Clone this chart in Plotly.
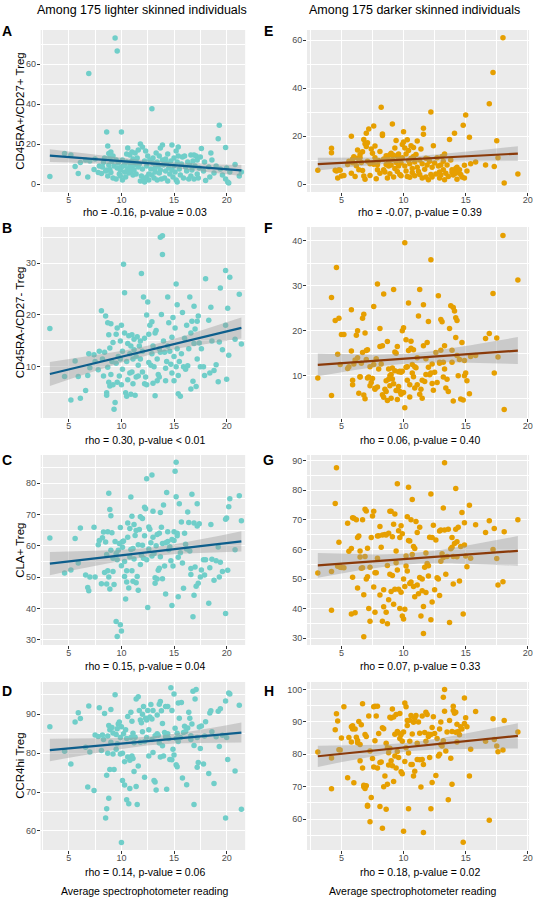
import numpy as np
import plotly.graph_objects as go

# ---------------- data ----------------
light_x = [3.2, 4.6, 5.2, 5.6, 5.9, 6.1, 6.6, 6.8, 6.9, 7.0, 7.4, 7.5, 7.8, 7.9, 8.1, 8.2, 8.3, 8.4, 8.5, 8.6, 8.6, 8.7, 8.7, 8.8, 8.8,
           8.9, 8.9, 9.0, 9.0, 9.1, 9.2, 9.2, 9.3, 9.4, 9.5, 9.5, 9.6, 9.6, 9.7, 9.8, 9.9, 9.9, 10.0, 10.0, 10.1, 10.1, 10.2, 10.3, 10.3, 10.4,
           10.5, 10.5, 10.6, 10.6, 10.7, 10.8, 10.8, 10.9, 10.9, 11.0, 11.0, 11.1, 11.1, 11.2, 11.2, 11.3, 11.4, 11.4, 11.5, 11.6, 11.6, 11.7, 11.8, 11.8, 11.9,
           12.0, 12.0, 12.1, 12.2, 12.2, 12.3, 12.4, 12.4, 12.5, 12.6, 12.6, 12.7, 12.8, 12.9, 12.9, 13.0, 13.0, 13.1, 13.2, 13.2, 13.3, 13.4, 13.4, 13.5, 13.6,
           13.6, 13.7, 13.7, 13.8, 13.9, 13.9, 14.0, 14.1, 14.2, 14.2, 14.3, 14.4, 14.4, 14.5, 14.6, 14.7, 14.8, 14.8, 14.9, 15.0, 15.0, 15.1, 15.2, 15.2, 15.3,
           15.3, 15.4, 15.4, 15.5, 15.6, 15.7, 15.8, 15.9, 16.0, 16.1, 16.2, 16.3, 16.4, 16.5, 16.6, 16.6, 16.7, 16.8, 16.9, 16.9, 17.0, 17.1, 17.2, 17.2, 17.3,
           17.4, 17.5, 17.6, 17.8, 17.9, 18.0, 18.3, 18.4, 18.5, 18.6, 18.8, 19.0, 19.2, 19.3, 19.4, 19.6, 19.9, 19.9, 20.0, 20.1, 20.2, 20.3, 20.8, 21.2, 21.4]

a_y = [3.7, 15.2, 14.5, 8.7, 5.2, 10.8, 12.0, 3.5, 55.3, 11.5, 7.3, 12.5, 5.8, 9.0, 5.2, 8.5, 10.7, 13.0, 6.5, 26.0, 7.0, 19.0, 4.0, 15.3, 9.5,
       13.3, 7.3, 16.0, 5.7, 11.2, 3.0, 14.0, 9.0, 73.0, 12.0, 2.5, 66.5, 8.0, 10.5, 5.0, 7.0, 4.0, 26.0, 8.5, 12.0, 2.0, 9.0, 9.5, 6.0, 3.5,
       11.0, 15.0, 7.5, 18.0, 5.5, 9.0, 14.5, 6.5, 11.0, 8.0, 16.0, 4.5, 12.5, 9.5, 7.0, 15.5, 11.0, 5.0, 13.0, 8.5, 17.0, 10.0, 1.5, 20.0, 4.0,
       7.5, 18.5, 2.5, 11.5, 1.0, 16.5, 3.5, 9.0, 14.0, 5.0, 2.0, 12.0, 7.5, 37.6, 4.5, 10.5, 13.0, 3.0, 8.0, 6.0, 15.5, 11.0, 2.0, 9.0, 14.0,
       5.5, 18.0, 7.0, 2.5, 12.0, 19.5, 9.5, 3.0, 12.5, 6.5, 10.5, 15.0, 1.5, 8.0, 5.0, 11.5, 7.0, 19.5, 3.5, 13.0, 9.0, 6.0, 16.5, 2.0, 11.0,
       1.0, 14.0, 18.5, 7.5, 4.5, 10.0, 13.5, 3.0, 14.0, 8.5, 6.5, 11.0, 2.5, 9.5, 14.5, 4.0, 7.0, 11.5, 14.5, 2.5, 9.0, 14.0, 5.0, 12.0, 3.0,
       8.0, 13.5, 17.8, 6.5, 11.0, 1.8, 8.5, 3.5, 15.5, 12.0, 5.5, 9.0, 22.6, 29.4, 7.5, 4.5, 18.2, 2.5, 8.0, 1.0, 0.5, 6.0, 9.8, 4.0, 6.0]

b_y = [17.4, 8.1, 3.6, 11.1, 8.1, 3.9, 5.4, 8.3, 12.5, 9.8, 12.3, 11.0, 9.4, 13.0, 20.8, 11.5, 8.2, 12.8, 19.8, 5.0, 4.5, 9.9, 18.5, 7.0, 16.2,
       6.3, 13.6, 18.3, 8.5, 11.0, 6.5, 14.7, 1.8, 3.1, 16.3, 10.7, 17.5, 7.0, 12.0, 8.2, 15.0, 11.5, 18.0, 6.5, 13.0, 9.5, 29.8, 24.3, 16.5, 5.0,
       4.3, 11.0, 14.5, 7.5, 16.0, 8.8, 12.5, 4.7, 14.0, 16.2, 9.0, 11.5, 6.7, 13.3, 15.3, 4.5, 8.0, 12.0, 15.8, 10.3, 8.2, 14.0, 15.0, 11.5, 28.0,
       9.0, 13.0, 23.5, 6.7, 15.5, 8.0, 20.0, 6.5, 22.5, 10.8, 16.3, 18.0, 10.3, 18.7, 12.5, 6.8, 14.0, 10.0, 4.4, 16.5, 17.0, 11.5, 7.3, 8.5, 13.5,
       8.0, 35.0, 12.8, 20.1, 35.3, 31.7, 15.0, 12.8, 7.3, 9.7, 11.0, 23.5, 14.0, 18.5, 13.0, 10.5, 15.7, 8.8, 19.5, 12.0, 7.3, 17.5, 26.0, 10.0, 22.0,
       13.5, 4.8, 8.3, 11.0, 4.3, 12.5, 20.5, 10.0, 15.5, 9.5, 18.0, 10.2, 13.5, 23.5, 5.7, 16.5, 18.8, 7.2, 21.7, 14.5, 17.3, 6.2, 18.8, 11.5, 19.8,
       14.6, 10.0, 13.5, 10.0, 8.3, 27.0, 19.0, 8.8, 21.5, 15.0, 9.3, 10.4, 7.1, 14.8, 25.2, 13.3, 28.6, 18.0, 7.6, 21.3, 12.2, 27.3, 15.3, 24.0, 14.4]

c_y = [62.5, 51.3, 52.3, 62.3, 54.5, 65.7, 50.7, 46.7, 45.6, 50.0, 65.9, 50.0, 60.3, 61.7, 47.9, 62.6, 64.4, 51.5, 61.2, 47.8, 57.2, 52.0, 64.5, 50.0, 76.8,
       71.6, 46.2, 69.6, 58.6, 64.2, 51.8, 56.0, 47.6, 61.4, 35.8, 57.5, 55.5, 31.0, 58.6, 60.7, 34.8, 65.8, 32.8, 53.6, 61.3, 59.5, 61.5, 55.0, 50.2, 43.0,
       52.0, 48.4, 67.3, 62.7, 46.5, 65.5, 56.4, 75.6, 58.8, 52.0, 69.4, 48.7, 59.1, 66.8, 55.8, 63.3, 48.2, 64.9, 50.2, 45.8, 60.3, 65.2, 69.3, 54.0, 57.0,
       60.2, 68.7, 56.0, 72.3, 63.2, 71.8, 81.4, 55.5, 40.3, 59.0, 66.0, 65.3, 61.0, 82.6, 56.7, 71.0, 62.7, 57.5, 49.8, 48.0, 60.0, 63.6, 49.4, 52.2, 64.0,
       52.8, 70.6, 56.5, 65.9, 60.7, 49.5, 73.0, 53.5, 44.6, 61.0, 77.0, 61.4, 64.5, 58.7, 59.7, 55.2, 40.9, 62.0, 53.5, 61.7, 64.5, 83.8, 86.7, 75.7, 63.2,
       64.0, 56.3, 43.7, 73.4, 57.8, 67.6, 54.5, 46.4, 64.0, 60.5, 59.0, 70.8, 67.4, 58.3, 52.7, 50.8, 76.5, 37.3, 67.3, 44.2, 53.2, 47.1, 73.4, 66.3, 48.0,
       67.0, 50.0, 52.3, 55.5, 50.7, 55.5, 41.6, 53.0, 66.8, 55.7, 49.0, 55.2, 59.6, 50.0, 54.7, 51.8, 68.5, 38.4, 68.9, 52.2, 72.5, 75.0, 58.7, 76.0, 68.0]

d_y = [86.8, 80.5, 77.2, 88.0, 90.4, 88.9, 81.5, 71.3, 92.1, 80.3, 70.4, 84.7, 84.3, 91.7, 80.7, 84.7, 83.5, 90.2, 63.3, 74.3, 65.7, 80.0, 84.4, 68.4, 87.1,
       75.8, 86.0, 91.2, 82.8, 86.6, 79.8, 85.2, 75.8, 95.0, 81.0, 84.8, 86.3, 82.4, 87.5, 88.0, 79.8, 84.0, 57.0, 86.8, 73.0, 80.0, 85.0, 77.8, 71.8, 86.0,
       68.0, 83.8, 79.0, 89.4, 67.0, 78.2, 70.9, 90.5, 84.0, 79.3, 88.2, 85.1, 78.6, 75.3, 82.7, 84.1, 71.4, 93.9, 66.8, 76.7, 94.5, 91.0, 88.5, 82.8, 87.8,
       90.0, 85.5, 92.0, 83.0, 73.8, 89.0, 88.5, 84.0, 91.0, 79.3, 86.0, 89.3, 92.5, 88.8, 83.5, 91.0, 80.2, 73.0, 84.5, 72.6, 70.5, 85.0, 89.8, 84.6, 82.6,
       92.6, 79.0, 93.3, 90.9, 81.9, 87.6, 79.3, 85.3, 92.0, 84.2, 70.7, 92.0, 85.0, 83.8, 78.4, 96.8, 91.0, 78.3, 81.0, 95.2, 79.5, 86.4, 83.8, 77.0, 85.1,
       76.5, 92.9, 83.0, 89.0, 84.0, 93.0, 73.6, 85.3, 86.9, 85.6, 71.9, 86.5, 90.5, 89.0, 83.5, 84.5, 87.5, 95.9, 66.8, 82.0, 93.9, 96.4, 76.4, 84.0, 77.6,
       86.7, 81.2, 87.0, 77.2, 84.4, 88.1, 74.8, 90.3, 90.9, 85.5, 72.2, 84.2, 90.8, 81.7, 91.4, 84.6, 93.4, 63.3, 84.0, 78.4, 95.5, 95.2, 75.4, 92.3, 65.6]

dark_x = [3.1, 4.2, 4.2, 4.5, 4.6, 4.7, 4.8, 4.9, 5.0, 5.2, 5.5, 5.6, 5.8, 5.8, 5.9, 5.9, 6.0, 6.1, 6.2, 6.3, 6.3, 6.4, 6.5, 6.5, 6.6,
          6.7, 6.7, 6.8, 6.8, 6.9, 6.9, 7.0, 7.0, 7.1, 7.1, 7.2, 7.3, 7.3, 7.4, 7.5, 7.6, 7.6, 7.7, 7.7, 7.8, 7.9, 7.9, 8.0, 8.1, 8.1,
          8.2, 8.3, 8.3, 8.4, 8.4, 8.5, 8.6, 8.6, 8.7, 8.7, 8.8, 8.8, 8.9, 8.9, 9.0, 9.0, 9.1, 9.1, 9.2, 9.2, 9.3, 9.3, 9.4, 9.4, 9.5,
          9.5, 9.6, 9.6, 9.7, 9.7, 9.8, 9.8, 9.9, 9.9, 10.0, 10.0, 10.1, 10.1, 10.2, 10.2, 10.3, 10.3, 10.4, 10.4, 10.5, 10.5, 10.6, 10.6, 10.7, 10.7,
          10.8, 10.8, 10.9, 10.9, 11.0, 11.1, 11.1, 11.2, 11.3, 11.3, 11.4, 11.5, 11.5, 11.6, 11.6, 11.7, 11.8, 11.8, 11.9, 12.0, 12.0, 12.1, 12.2, 12.2, 12.3,
          12.3, 12.4, 12.5, 12.6, 12.7, 12.8, 12.9, 12.9, 13.0, 13.0, 13.1, 13.2, 13.2, 13.3, 13.3, 13.4, 13.5, 13.6, 13.7, 13.8, 13.9, 13.9, 14.0, 14.0, 14.1,
          14.2, 14.2, 14.3, 14.3, 14.4, 14.5, 14.6, 14.7, 14.8, 14.9, 14.9, 15.0, 15.1, 15.3, 15.4, 15.8, 16.6, 16.9, 17.2, 17.3, 17.5, 17.6, 18.0, 18.1, 19.2]

e_y = [5.8, 14.9, 13.1, 5.8, 5.5, 2.5, 6.0, 5.8, 3.4, 3.6, 8.2, 9.5, 19.9, 4.5, 10.5, 8.9, 11.4, 3.2, 7.6, 14.2, 10.8, 6.0, 11.0, 12.3, 9.0,
       5.7, 13.5, 18.6, 3.4, 16.8, 2.0, 21.2, 15.7, 9.5, 17.2, 22.9, 8.5, 3.6, 14.6, 12.8, 24.2, 8.3, 15.9, 11.0, 2.2, 8.1, 6.0, 9.8, 13.6, 4.5,
       32.0, 20.9, 20.2, 6.0, 10.5, 5.0, 11.8, 8.2, 2.5, 11.0, 7.5, 9.0, 12.2, 4.3, 12.8, 8.0, 25.0, 10.2, 12.0, 3.0, 15.0, 6.5, 18.2, 9.0, 11.5,
       5.2, 12.5, 7.5, 4.0, 10.2, 3.5, 8.8, 16.5, 11.0, 21.8, 17.5, 7.5, 15.0, 12.5, 5.5, 18.5, 3.2, 9.8, 14.0, 2.8, 8.5, 16.0, 10.8, 6.5, 4.8,
       11.5, 15.2, 9.2, 3.5, 12.3, 7.0, 18.0, 5.2, 10.0, 4.0, 14.6, 8.5, 2.5, 23.3, 20.8, 6.2, 10.8, 3.0, 8.0, 10.5, 1.8, 9.5, 30.0, 4.0, 3.0,
       7.0, 16.0, 8.8, 4.2, 11.0, 7.5, 2.5, 5.0, 8.0, 3.8, 11.5, 6.0, 9.5, 12.5, 1.8, 4.5, 8.0, 3.2, 18.6, 10.0, 4.8, 6.0, 3.8, 5.5, 21.2,
       6.5, 4.5, 7.0, 2.0, 5.0, 6.0, 4.0, 3.0, 24.5, 7.8, 2.5, 28.8, 5.5, 19.5, 8.5, 9.2, 8.0, 33.5, 46.5, 7.3, 18.1, 11.0, 61.0, 0.5, 4.2]

f_y = [9.5, 27.4, 5.6, 22.3, 34.1, 14.8, 22.8, 12.5, 19.2, 19.2, 11.6, 12.0, 24.7, 15.5, 9.0, 8.0, 12.6, 13.5, 19.0, 14.0, 20.0, 6.1, 9.8, 9.7, 12.8,
       22.8, 15.2, 23.7, 5.7, 19.5, 4.9, 15.6, 13.6, 9.5, 15.8, 9.7, 7.8, 12.0, 8.5, 9.4, 25.4, 12.5, 7.2, 7.0, 13.8, 30.4, 7.5, 11.5, 16.5, 20.5,
       12.6, 16.7, 5.8, 28.2, 5.2, 7.0, 8.9, 6.5, 4.5, 17.6, 9.2, 11.5, 7.8, 10.0, 5.0, 10.3, 9.3, 11.7, 29.2, 8.2, 15.3, 11.1, 6.7, 15.0, 16.5,
       4.7, 7.6, 10.9, 6.5, 11.0, 10.8, 5.9, 20.0, 11.0, 20.7, 6.3, 39.6, 2.9, 18.0, 11.9, 12.0, 9.0, 26.2, 15.6, 8.0, 5.3, 16.1, 17.7, 12.5, 10.6,
       15.8, 9.8, 12.0, 7.3, 11.8, 14.0, 8.0, 23.3, 5.9, 29.2, 7.0, 9.0, 5.0, 25.8, 16.7, 8.7, 13.8, 10.3, 17.4, 22.1, 11.9, 10.2, 35.8, 10.6, 12.6,
       8.3, 6.8, 10.8, 15.2, 8.5, 27.8, 13.0, 12.8, 15.7, 22.5, 22.0, 9.7, 13.0, 16.7, 11.5, 7.3, 9.2, 6.5, 20.5, 25.6, 13.0, 15.7, 4.4, 25.2, 24.4,
       22.9, 18.5, 14.5, 22.3, 10.0, 13.6, 4.8, 17.4, 4.6, 13.4, 10.0, 10.6, 8.9, 6.0, 14.3, 14.5, 18.3, 19.4, 28.3, 10.6, 18.4, 14.2, 41.2, 2.5, 31.3]

g_y = [52.0, 52.5, 39.4, 75.5, 87.6, 54.3, 62.4, 54.0, 53.9, 53.8, 68.8, 59.4, 60.3, 38.2, 70.7, 50.6, 70.5, 38.6, 70.0, 47.0, 64.0, 64.5, 57.4, 59.5, 53.6,
       53.8, 70.0, 44.7, 30.5, 73.6, 57.6, 50.0, 73.0, 60.4, 50.8, 40.0, 35.7, 54.0, 64.0, 71.3, 72.9, 47.3, 52.1, 38.8, 52.1, 57.0, 64.5, 64.6, 67.7, 44.6,
       60.7, 35.7, 64.9, 40.6, 46.4, 65.0, 38.8, 64.9, 34.9, 54.6, 43.0, 65.5, 72.9, 51.6, 45.8, 72.9, 64.3, 51.2, 68.5, 41.5, 46.5, 72.0, 59.5, 55.5, 82.2,
       53.0, 46.5, 66.3, 40.0, 64.0, 68.0, 45.5, 37.5, 65.3, 36.5, 50.0, 39.8, 47.5, 57.8, 54.4, 71.0, 52.7, 81.0, 63.0, 62.8, 48.5, 70.0, 49.0, 76.9, 58.3,
       47.5, 61.0, 60.3, 44.0, 69.4, 48.0, 65.7, 45.0, 50.5, 67.5, 37.5, 50.0, 46.0, 31.6, 40.7, 54.0, 58.8, 45.4, 55.2, 51.0, 54.5, 64.1, 78.7, 36.2, 42.2,
       64.0, 68.2, 46.4, 63.2, 50.4, 50.0, 44.4, 66.2, 66.6, 56.0, 58.5, 57.3, 74.0, 89.3, 66.6, 51.6, 57.6, 66.8, 35.3, 60.2, 64.0, 60.7, 48.3, 57.6, 62.0,
       66.8, 80.6, 57.5, 62.6, 67.5, 49.3, 61.0, 72.5, 38.2, 61.5, 69.0, 57.8, 54.1, 74.9, 57.0, 68.3, 65.7, 69.7, 60.0, 67.1, 56.9, 48.0, 49.1, 66.0, 70.0]

h_y = [80.7, 78.9, 69.4, 87.6, 92.5, 90.3, 81.4, 81.3, 85.0, 94.7, 72.8, 85.2, 88.5, 83.8, 87.8, 88.8, 71.2, 87.8, 85.3, 84.3, 83.6, 90.1, 78.0, 83.0, 89.1,
       95.6, 75.8, 70.5, 70.0, 69.5, 86.1, 70.3, 85.5, 64.3, 64.0, 91.8, 81.0, 59.2, 66.7, 78.7, 94.7, 76.1, 94.8, 84.2, 91.8, 75.8, 94.8, 86.4, 77.5, 63.9,
       77.6, 88.2, 57.2, 70.0, 87.9, 73.3, 83.4, 63.1, 70.8, 82.0, 80.5, 76.7, 91.4, 81.9, 91.2, 78.0, 94.0, 76.5, 71.6, 91.5, 86.2, 79.5, 92.3, 75.8, 87.0,
       80.9, 86.6, 79.0, 92.6, 84.9, 74.6, 86.0, 74.0, 84.0, 56.3, 86.9, 95.8, 77.8, 94.7, 82.0, 90.4, 88.9, 63.2, 80.4, 90.5, 84.0, 92.0, 76.9, 76.9, 86.3,
       89.9, 73.3, 91.1, 74.8, 92.0, 78.4, 83.4, 90.0, 78.3, 86.5, 69.9, 91.8, 78.4, 55.9, 76.9, 86.7, 93.0, 84.0, 92.3, 86.2, 85.5, 79.0, 63.2, 86.1, 71.3,
       88.3, 91.6, 86.4, 73.5, 84.9, 79.5, 80.0, 87.8, 90.0, 83.0, 82.6, 84.2, 97.6, 100.0, 93.3, 81.0, 86.9, 66.0, 90.4, 78.8, 70.8, 87.0, 93.5, 94.8, 92.7,
       93.0, 86.8, 83.8, 89.3, 87.0, 86.0, 88.5, 87.8, 52.9, 97.4, 89.5, 91.3, 88.5, 73.3, 81.6, 93.2, 84.0, 59.7, 91.0, 84.6, 82.6, 80.8, 81.3, 90.4, 86.9]

# fitted lm lines: y at the left and right ends of the data
light_fit_x = [3.2, 21.4]
dark_fit_x = [3.1, 19.2]
fit_ends = {"A": [14.2, 6.8], "B": [8.6, 17.5], "C": [54.3, 61.4], "D": [80.8, 85.3],
            "E": [8.3, 12.7], "F": [12.4, 15.6], "G": [54.6, 59.5], "H": [79.4, 85.7]}
# confidence band half-widths: [at mean x, at farthest end]
band_hw = {"A": [1.3, 3.2], "B": [0.9, 2.3], "C": [1.4, 3.7], "D": [1.1, 2.9],
           "E": [1.2, 3.1], "F": [1.1, 3.0], "G": [1.8, 5.0], "H": [1.3, 3.9]}

stats = {"A": "rho = -0.16, p-value = 0.03", "B": "rho = 0.30, p-value < 0.01",
         "C": "rho = 0.15, p-value = 0.04", "D": "rho = 0.14, p-value = 0.06",
         "E": "rho = -0.07, p-value = 0.39", "F": "rho = 0.06, p-value = 0.40",
         "G": "rho = 0.07, p-value = 0.33", "H": "rho = 0.18, p-value = 0.02"}
y_titles = ["CD45RA+/CD27+ Treg", "CD45RA-/CD27- Treg", "CLA+ Treg", "CCR4hi Treg"]
col_titles = ["Among 175 lighter skinned individuals", "Among 175 darker skinned individuals"]
x_title = "Average spectrophotometer reading"

# ---------------- layout geometry (pixels) ----------------
W, H = 540, 902
col_px = [(41, 247), (309.3, 533)]
row_px = [(30, 192), (227, 418), (455, 645), (682, 850)]
x_ranges = [[2.33, 21.76], [2.23, 20.1]]
y_ranges = {"A": [-4, 77], "B": [0.1, 37], "C": [28.3, 89], "D": [55.1, 98.3],
            "E": [-3.3, 64.2], "F": [0.6, 43.1], "G": [27.7, 91.9], "H": [50.5, 102.3]}
y_dticks = {"A": 20, "B": 10, "C": 10, "D": 10, "E": 20, "F": 10, "G": 10, "H": 10}

panels = [
    ("A", 0, 0, light_x, a_y), ("B", 0, 1, light_x, b_y), ("C", 0, 2, light_x, c_y), ("D", 0, 3, light_x, d_y),
    ("E", 1, 0, dark_x, e_y), ("F", 1, 1, dark_x, f_y), ("G", 1, 2, dark_x, g_y), ("H", 1, 3, dark_x, h_y),
]
point_colors = ["#70CEC9", "#E69F00"]
line_colors = ["#0D5E8C", "#8A3A0A"]
font_family = "Liberation Sans, Arial, sans-serif"

fig = go.Figure()
annotations = []
layout_axes = {}


def px2fx(p):
    return p / W


def py2fy(p):
    return 1 - p / H


for i, (key, col, row, xs, ys) in enumerate(panels):
    n = i + 1
    xa = "x" if n == 1 else f"x{n}"
    ya = "y" if n == 1 else f"y{n}"
    # points
    fig.add_trace(go.Scatter(x=xs, y=ys, mode="markers", xaxis=xa, yaxis=ya,
                             marker=dict(size=5.5, color=point_colors[col], line=dict(width=0)),
                             showlegend=False, hoverinfo="x+y"))
    # fit line + band
    fx = light_fit_x if col == 0 else dark_fit_x
    xall = np.array(xs, dtype=float)
    xc = xall.mean()
    xg = np.linspace(fx[0], fx[1], 80)
    y0, y1 = fit_ends[key]
    yg = y0 + (y1 - y0) * (xg - fx[0]) / (fx[1] - fx[0])
    h0, he = band_hw[key]
    dmax = max(abs(fx[0] - xc), abs(fx[1] - xc))
    hw = np.sqrt(h0 ** 2 + (he ** 2 - h0 ** 2) * ((xg - xc) / dmax) ** 2)
    fig.add_trace(go.Scatter(x=np.concatenate([xg, xg[::-1]]),
                             y=np.concatenate([yg + hw, (yg - hw)[::-1]]),
                             mode="lines", fill="toself", fillcolor="rgba(153,153,153,0.4)",
                             line=dict(width=0), xaxis=xa, yaxis=ya, showlegend=False, hoverinfo="skip"))
    fig.add_trace(go.Scatter(x=xg, y=yg, mode="lines", line=dict(color=line_colors[col], width=2.2),
                             xaxis=xa, yaxis=ya, showlegend=False, hoverinfo="skip"))

    cx0, cx1 = col_px[col]
    ry0, ry1 = row_px[row]
    common = dict(showgrid=True, gridcolor="white", gridwidth=1.1, zeroline=False, showline=False,
                  ticks="outside", ticklen=3, tickwidth=1, tickcolor="#333333",
                  tickfont=dict(size=9, color="#4D4D4D", family=font_family))
    layout_axes["xaxis" if n == 1 else f"xaxis{n}"] = dict(
        common, domain=[px2fx(cx0), px2fx(cx1)], range=x_ranges[col], anchor=ya,
        tick0=0, dtick=5, ticklabelstandoff=-4, ticklabeloverflow="allow",
        minor=dict(showgrid=True, gridcolor="white", gridwidth=0.5, tick0=0, dtick=2.5, ticks=""))
    dt = y_dticks[key]
    layout_axes["yaxis" if n == 1 else f"yaxis{n}"] = dict(
        common, domain=[py2fy(ry1), py2fy(ry0)], range=y_ranges[key], anchor=xa,
        tick0=0, dtick=dt, ticklabelstandoff=-1,
        minor=dict(showgrid=True, gridcolor="white", gridwidth=0.5, tick0=0, dtick=dt / 2, ticks=""))

    # panel letter
    letter_x = 7.5 if col == 0 else 271
    letter_y = [31, 228, 460, 691][row]
    annotations.append(dict(text=f"<b>{key}</b>", x=px2fx(letter_x), y=py2fy(letter_y), xref="paper", yref="paper",
                            showarrow=False, xanchor="center", yanchor="middle",
                            font=dict(size=14, color="black", family=font_family)))
    # stats label
    stat_y = [212, 440, 666, 872][row]
    annotations.append(dict(text=stats[key], x=px2fx((cx0 + cx1) / 2 + 2), y=py2fy(stat_y), xref="paper", yref="paper",
                            showarrow=False, xanchor="center", yanchor="middle",
                            font=dict(size=10.5, color="black", family=font_family)))
    if col == 0:
        annotations.append(dict(text=y_titles[row], x=px2fx(20), y=py2fy((ry0 + ry1) / 2), xref="paper", yref="paper",
                                showarrow=False, xanchor="center", yanchor="middle", textangle=-90,
                                font=dict(size=11.5, color="black", family=font_family)))

for col in range(2):
    cx0, cx1 = col_px[col]
    annotations.append(dict(text=col_titles[col], x=px2fx([143, 418][col]), y=py2fy(10), xref="paper", yref="paper",
                            showarrow=False, xanchor="center", yanchor="middle",
                            font=dict(size=12.5, color="black", family=font_family)))
    annotations.append(dict(text=x_title, x=px2fx([146, 416][col]), y=py2fy(891), xref="paper", yref="paper",
                            showarrow=False, xanchor="center", yanchor="middle",
                            font=dict(size=10.5, color="black", family=font_family)))

fig.update_layout(width=W, height=H, margin=dict(l=0, r=0, t=0, b=0),
                  paper_bgcolor="white", plot_bgcolor="#EBEBEB",
                  font=dict(family=font_family), annotations=annotations, **layout_axes)

fig.write_html("out.html", config={"displayModeBar": False},
               post_script="document.body.style.margin='0';document.body.style.overflow='hidden';")
